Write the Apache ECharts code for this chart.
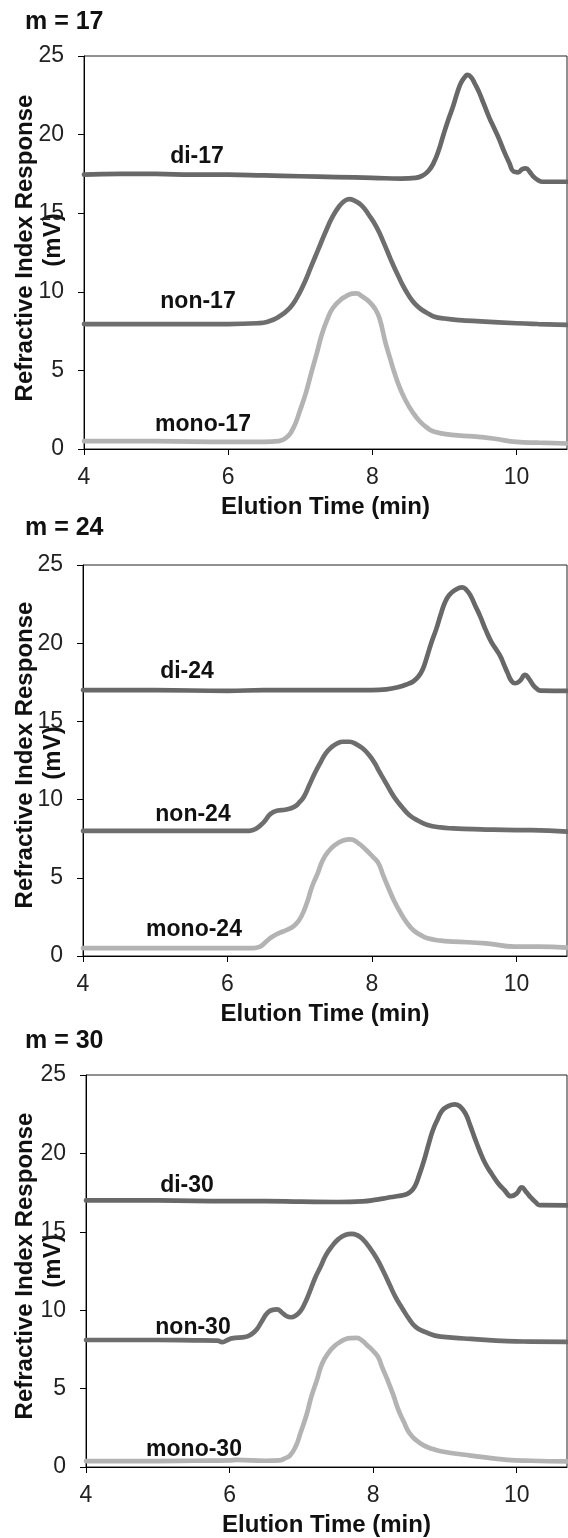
<!DOCTYPE html>
<html>
<head>
<meta charset="utf-8">
<script src="https://cdn.jsdelivr.net/npm/echarts@6/dist/echarts.min.js"></script>
<style>
  html, body { margin: 0; padding: 0; background: #fff; }
  #main { width: 568px; height: 1538px; }
</style>
</head>
<body>
<div id="main"></div>
<script>
// elution time (min) / RI response (mV) pairs
var di17 = [[4,17.45],[4.5,17.5],[5,17.5],[5.5,17.45],[6,17.45],[6.5,17.4],[7,17.35],[7.5,17.3],[8,17.25],[8.4,17.2],[8.6,17.25],[8.7,17.4],[8.78,17.7],[8.85,18.2],[8.92,19.0],[8.98,19.9],[9.05,20.9],[9.12,21.8],[9.18,22.7],[9.23,23.3],[9.28,23.65],[9.32,23.8],[9.37,23.65],[9.42,23.25],[9.48,22.7],[9.55,21.9],[9.62,21.1],[9.69,20.4],[9.76,19.7],[9.83,18.9],[9.9,18.2],[9.96,17.65],[10.02,17.6],[10.08,17.8],[10.13,17.85],[10.18,17.65],[10.23,17.35],[10.3,17.1],[10.36,17.0],[10.5,17.0],[10.7,17.0]];
var non17 = [[4,7.95],[5,7.95],[6,7.95],[6.4,8.0],[6.55,8.1],[6.7,8.4],[6.85,8.95],[6.95,9.6],[7.05,10.5],[7.15,11.6],[7.25,12.7],[7.35,13.8],[7.45,14.8],[7.55,15.5],[7.62,15.8],[7.68,15.9],[7.75,15.8],[7.85,15.5],[7.95,14.9],[8.06,14.1],[8.16,13.1],[8.26,12.0],[8.36,11.0],[8.46,10.1],[8.56,9.4],[8.66,8.95],[8.76,8.65],[8.86,8.42],[9.0,8.3],[9.2,8.2],[9.5,8.12],[10,8.0],[10.3,7.95],[10.7,7.9]];
var mono17 = [[4,0.5],[5,0.5],[6,0.45],[6.5,0.45],[6.7,0.5],[6.8,0.7],[6.9,1.3],[7.0,2.5],[7.08,3.6],[7.15,4.8],[7.23,6.1],[7.3,7.3],[7.38,8.3],[7.45,8.95],[7.55,9.45],[7.63,9.7],[7.72,9.88],[7.78,9.9],[7.86,9.7],[7.96,9.35],[8.04,8.9],[8.1,8.3],[8.18,6.8],[8.25,5.7],[8.31,4.8],[8.38,3.9],[8.46,3.1],[8.55,2.4],[8.66,1.75],[8.76,1.35],[8.86,1.1],[9.1,0.9],[9.4,0.8],[9.7,0.65],[10,0.45],[10.3,0.4],[10.7,0.35]];

var di24 = [[4,17.0],[5,17.0],[6,16.95],[6.5,17.0],[7,17.0],[7.5,17.0],[8,17.0],[8.2,17.05],[8.37,17.2],[8.5,17.4],[8.57,17.55],[8.64,17.85],[8.7,18.3],[8.76,19.1],[8.82,20.0],[8.89,20.9],[8.95,21.8],[9.01,22.6],[9.07,23.08],[9.15,23.4],[9.25,23.57],[9.31,23.4],[9.37,23.0],[9.43,22.4],[9.5,21.7],[9.57,20.9],[9.65,20.1],[9.72,19.6],[9.78,19.14],[9.83,18.6],[9.88,18.07],[9.93,17.6],[9.98,17.44],[10.05,17.6],[10.12,17.97],[10.17,17.75],[10.23,17.33],[10.28,17.1],[10.33,16.97],[10.7,16.95]];
var non24 = [[4,8.0],[5,8.0],[6,8.0],[6.3,8.0],[6.4,8.15],[6.5,8.55],[6.6,9.1],[6.7,9.3],[6.8,9.35],[6.93,9.55],[7.0,9.85],[7.06,10.2],[7.13,10.9],[7.21,11.7],[7.29,12.4],[7.36,12.96],[7.44,13.35],[7.52,13.6],[7.6,13.7],[7.69,13.7],[7.78,13.55],[7.87,13.28],[7.96,12.85],[8.04,12.32],[8.1,11.8],[8.17,11.25],[8.25,10.6],[8.32,10.08],[8.42,9.5],[8.52,9.0],[8.64,8.65],[8.77,8.38],[8.95,8.22],[9.12,8.16],[9.5,8.1],[10,8.05],[10.2,8.05],[10.7,7.95]];
var mono24 = [[4,0.5],[5,0.5],[6,0.5],[6.36,0.5],[6.45,0.6],[6.51,0.81],[6.58,1.1],[6.66,1.34],[6.76,1.55],[6.87,1.77],[6.95,2.05],[7.02,2.51],[7.1,3.4],[7.17,4.43],[7.25,5.3],[7.32,6.14],[7.4,6.7],[7.49,7.1],[7.6,7.38],[7.7,7.46],[7.8,7.25],[7.92,6.78],[8.02,6.3],[8.09,5.93],[8.16,5.1],[8.24,4.22],[8.32,3.4],[8.4,2.73],[8.48,2.15],[8.57,1.66],[8.67,1.35],[8.77,1.13],[8.95,0.98],[9.12,0.92],[9.58,0.81],[9.98,0.6],[10.3,0.6],[10.7,0.53]];

var di30 = [[4,17.0],[5,17.0],[6,16.95],[6.5,16.95],[7,16.92],[7.5,16.9],[7.85,16.94],[8.05,17.05],[8.2,17.17],[8.35,17.28],[8.45,17.38],[8.52,17.55],[8.58,17.9],[8.64,18.6],[8.71,19.58],[8.77,20.55],[8.83,21.46],[8.9,22.2],[8.96,22.72],[9.04,23.0],[9.14,23.13],[9.22,22.95],[9.29,22.5],[9.35,21.8],[9.41,21.04],[9.48,20.2],[9.56,19.37],[9.65,18.7],[9.74,18.1],[9.83,17.65],[9.92,17.27],[10.0,17.45],[10.07,17.84],[10.13,17.55],[10.2,17.17],[10.26,16.9],[10.32,16.7],[10.7,16.69]];
var non30 = [[4,8.1],[5,8.1],[5.5,8.08],[5.83,8.06],[5.9,7.96],[5.97,8.1],[6.03,8.2],[6.23,8.31],[6.3,8.45],[6.38,8.79],[6.45,9.3],[6.53,9.84],[6.6,10.02],[6.66,10.05],[6.73,9.85],[6.79,9.63],[6.86,9.55],[6.91,9.63],[6.98,9.9],[7.04,10.36],[7.11,11.1],[7.19,12.04],[7.27,12.8],[7.34,13.5],[7.43,14.1],[7.52,14.55],[7.61,14.8],[7.7,14.87],[7.78,14.78],[7.85,14.55],[7.95,14.0],[8.05,13.3],[8.14,12.5],[8.23,11.62],[8.31,10.85],[8.4,10.16],[8.5,9.45],[8.6,8.9],[8.73,8.6],[8.86,8.38],[9.1,8.25],[9.36,8.17],[9.87,8.03],[10.2,8.0],[10.7,7.98]];
var mono30 = [[4,0.38],[5,0.38],[5.5,0.4],[6,0.42],[6.1,0.45],[6.5,0.4],[6.69,0.42],[6.77,0.55],[6.84,0.73],[6.92,1.3],[6.99,2.2],[7.07,3.3],[7.14,4.5],[7.22,5.6],[7.29,6.6],[7.38,7.3],[7.47,7.75],[7.55,8.0],[7.62,8.17],[7.7,8.22],[7.77,8.23],[7.85,8.05],[7.92,7.75],[8.0,7.4],[8.07,7.0],[8.13,6.3],[8.2,5.55],[8.28,4.6],[8.35,3.66],[8.43,2.85],[8.5,2.2],[8.6,1.7],[8.71,1.36],[8.83,1.15],[8.96,0.99],[9.36,0.73],[9.87,0.46],[10.2,0.4],[10.7,0.36]];

var panelTitles = ['m = 17', 'm = 24', 'm = 30'];
var traceNames = [['di-17', 'non-17', 'mono-17'], ['di-24', 'non-24', 'mono-24'], ['di-30', 'non-30', 'mono-30']];
var traceData = [[di17, non17, mono17], [di24, non24, mono24], [di30, non30, mono30]];

var xTicks = { min: 4, max: 10.7, interval: 2 };
var yTicks = { min: 0, max: 25, interval: 5 };

// page layout (pixels)
var panels = [
  { grid: { left: 84, top: 56, width: 483, height: 393 }, titleY: 22, yName1: 248, yName2: 240,
    labelPos: [[197, 157], [198, 302], [203, 425]] },
  { grid: { left: 83, top: 565, width: 484, height: 391 }, titleY: 528, yName1: 755, yName2: 753,
    labelPos: [[187, 672], [193, 815], [194, 930]] },
  { grid: { left: 86, top: 1075, width: 481, height: 398 }, titleY: 1041, yName1: 1266, yName2: 1261,
    labelPos: [[187, 1186], [193, 1328], [194, 1450]] }
];
var colors = ['#686868', '#6e6e6e', '#b3b3b3'];
var FONT = '"Liberation Sans", Arial, sans-serif';

var grids = [], xAxes = [], yAxes = [], series = [], graphics = [];

panels.forEach(function (p, i) {
  grids.push({ left: p.grid.left, top: p.grid.top, width: p.grid.width, height: p.grid.height,
    show: true, borderColor: '#222', borderWidth: 1, containLabel: false });

  xAxes.push({
    gridIndex: i, type: 'value', min: xTicks.min, max: xTicks.max, interval: xTicks.interval,
    axisLine: { onZero: false, lineStyle: { color: '#000', width: 1 } },
    axisTick: { show: true, length: 6, lineStyle: { color: '#000' } },
    axisLabel: { fontSize: 23, color: '#222', margin: 17, fontFamily: FONT, showMaxLabel: false },
    splitLine: { show: false },
    name: 'Elution Time (min)', nameLocation: 'middle', nameGap: 46,
    nameTextStyle: { fontSize: 24, fontWeight: 'bold', color: '#111', fontFamily: FONT }
  });
  yAxes.push({
    gridIndex: i, type: 'value', min: yTicks.min, max: yTicks.max, interval: yTicks.interval,
    axisLine: { show: true, lineStyle: { color: '#000', width: 1 } },
    axisTick: { show: true, length: 6, lineStyle: { color: '#000' } },
    axisLabel: { fontSize: 23, color: '#222', margin: 20, fontFamily: FONT },
    splitLine: { show: false }
  });

  traceData[i].forEach(function (d, k) {
    series.push({
      type: 'line', name: traceNames[i][k], xAxisIndex: i, yAxisIndex: i,
      data: d, showSymbol: false, smooth: 0.5,
      lineStyle: { color: colors[k], width: 4.7, cap: 'round', join: 'round' },
      itemStyle: { color: colors[k] }
    });
    graphics.push({
      type: 'text', x: p.labelPos[k][0], y: p.labelPos[k][1], z: 10,
      style: { text: traceNames[i][k], textAlign: 'center', textVerticalAlign: 'middle',
        fontSize: 23, fontWeight: 'bold', fontFamily: FONT, fill: '#111' }
    });
  });

  graphics.push({
    type: 'text', x: 25, y: p.titleY,
    style: { text: panelTitles[i], textAlign: 'left', textVerticalAlign: 'middle',
      fontSize: 25, fontWeight: 'bold', fontFamily: FONT, fill: '#111' }
  });
  graphics.push({
    type: 'text', x: 25, y: p.yName1, rotation: Math.PI / 2,
    style: { text: 'Refractive Index Response', textAlign: 'center', textVerticalAlign: 'middle',
      fontSize: 24, fontWeight: 'bold', fontFamily: FONT, fill: '#111' }
  });
  graphics.push({
    type: 'text', x: 53, y: p.yName2, rotation: Math.PI / 2,
    style: { text: '(mV)', textAlign: 'center', textVerticalAlign: 'middle',
      fontSize: 24, fontWeight: 'bold', fontFamily: FONT, fill: '#111' }
  });
});

var chart = echarts.init(document.getElementById('main'));
chart.setOption({
  animation: false,
  backgroundColor: '#fff',
  grid: grids,
  xAxis: xAxes,
  yAxis: yAxes,
  series: series,
  graphic: graphics
});
</script>
</body>
</html>
